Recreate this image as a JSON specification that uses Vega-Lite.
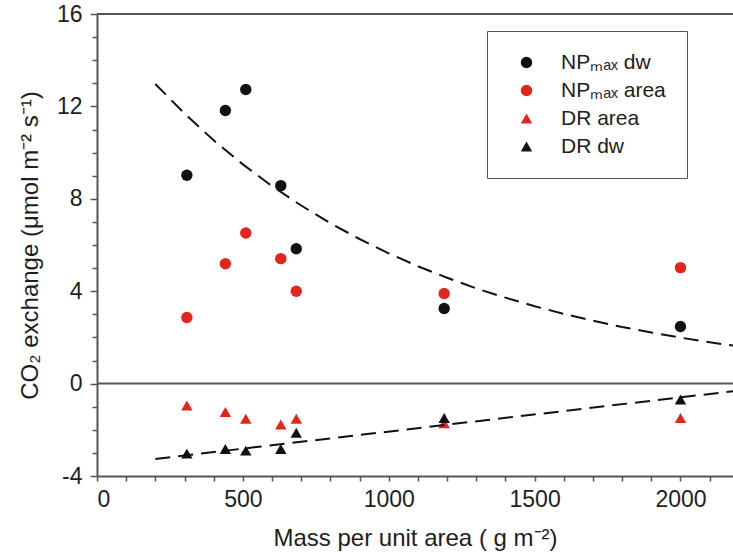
{
  "$schema": "https://vega.github.io/schema/vega-lite/v6.json",
  "autosize": "none",
  "padding": {"left": 97, "top": 14, "right": 0, "bottom": 79},
  "width": 636,
  "height": 462,
  "background": "white",
  "config": {
    "view": {"stroke": null},
    "font": "Liberation Sans",
    "axis": {
      "labelFont": "Liberation Sans",
      "titleFont": "Liberation Sans",
      "labelFontSize": 23,
      "titleFontSize": 24,
      "titleFontWeight": "normal",
      "labelColor": "#1e1e1e",
      "titleColor": "#1e1e1e",
      "domainColor": "#555555",
      "domainWidth": 2,
      "tickColor": "#555555",
      "tickWidth": 1.5,
      "grid": false,
      "labelOverlap": false
    }
  },
  "datasets": {
    "points": [
      {"series": "NPₘₐₓ dw", "x": 308, "y": 9.02},
      {"series": "NPₘₐₓ dw", "x": 440, "y": 11.82},
      {"series": "NPₘₐₓ dw", "x": 510, "y": 12.73},
      {"series": "NPₘₐₓ dw", "x": 630, "y": 8.57},
      {"series": "NPₘₐₓ dw", "x": 683, "y": 5.84},
      {"series": "NPₘₐₓ dw", "x": 1190, "y": 3.25},
      {"series": "NPₘₐₓ dw", "x": 2000, "y": 2.47},
      {"series": "NPₘₐₓ area", "x": 308, "y": 2.86},
      {"series": "NPₘₐₓ area", "x": 440, "y": 5.19},
      {"series": "NPₘₐₓ area", "x": 510, "y": 6.52},
      {"series": "NPₘₐₓ area", "x": 630, "y": 5.41},
      {"series": "NPₘₐₓ area", "x": 683, "y": 4.0},
      {"series": "NPₘₐₓ area", "x": 1190, "y": 3.9},
      {"series": "NPₘₐₓ area", "x": 2000, "y": 5.02},
      {"series": "DR area", "x": 308, "y": -0.95},
      {"series": "DR area", "x": 440, "y": -1.23},
      {"series": "DR area", "x": 510, "y": -1.52},
      {"series": "DR area", "x": 630, "y": -1.77},
      {"series": "DR area", "x": 683, "y": -1.52},
      {"series": "DR area", "x": 1190, "y": -1.72},
      {"series": "DR area", "x": 2000, "y": -1.49},
      {"series": "DR dw", "x": 308, "y": -3.03},
      {"series": "DR dw", "x": 440, "y": -2.83},
      {"series": "DR dw", "x": 510, "y": -2.9},
      {"series": "DR dw", "x": 630, "y": -2.83},
      {"series": "DR dw", "x": 683, "y": -2.13},
      {"series": "DR dw", "x": 1190, "y": -1.49},
      {"series": "DR dw", "x": 2000, "y": -0.69}
    ],
    "fits": [
      {"fit": "np", "x": 200, "y": 12.97},
      {"fit": "np", "x": 300, "y": 11.69},
      {"fit": "np", "x": 400, "y": 10.53},
      {"fit": "np", "x": 500, "y": 9.49},
      {"fit": "np", "x": 600, "y": 8.55},
      {"fit": "np", "x": 700, "y": 7.71},
      {"fit": "np", "x": 800, "y": 6.94},
      {"fit": "np", "x": 900, "y": 6.26},
      {"fit": "np", "x": 1000, "y": 5.64},
      {"fit": "np", "x": 1100, "y": 5.08},
      {"fit": "np", "x": 1200, "y": 4.58},
      {"fit": "np", "x": 1300, "y": 4.12},
      {"fit": "np", "x": 1400, "y": 3.72},
      {"fit": "np", "x": 1500, "y": 3.35},
      {"fit": "np", "x": 1600, "y": 3.02},
      {"fit": "np", "x": 1700, "y": 2.72},
      {"fit": "np", "x": 1800, "y": 2.45},
      {"fit": "np", "x": 1900, "y": 2.21},
      {"fit": "np", "x": 2000, "y": 1.99},
      {"fit": "np", "x": 2100, "y": 1.79},
      {"fit": "np", "x": 2200, "y": 1.61},
      {"fit": "dr", "x": 200, "y": -3.26},
      {"fit": "dr", "x": 2200, "y": -0.3}
    ],
    "rules": [{"y": 0}, {"y": 16}]
  },
  "layer": [
    {
      "data": {"name": "points"},
      "mark": {"type": "point", "filled": true, "opacity": 1, "clip": true},
      "encoding": {
        "x": {
          "field": "x", "type": "quantitative",
          "title": "Mass per unit area ( g m⁻²)",
          "scale": {"domain": [0, 2180], "nice": false, "zero": false},
          "axis": {
            "values": [0, 100, 200, 300, 400, 500, 600, 700, 800, 900, 1000, 1100, 1200, 1300, 1400, 1500, 1600, 1700, 1800, 1900, 2000, 2100],
            "labelExpr": "datum.value % 500 === 0 ? '' + datum.value : ''",
            "labelOverlap": false,
            "tickSize": 5,
            "labelPadding": 7,
            "titlePadding": 15
          }
        },
        "y": {
          "field": "y", "type": "quantitative",
          "title": "CO₂ exchange (μmol m⁻² s⁻¹)",
          "scale": {"domain": [-4, 16], "nice": false, "zero": false},
          "axis": {
            "values": [-4, -3, -2, -1, 0, 1, 2, 3, 4, 5, 6, 7, 8, 9, 10, 11, 12, 13, 14, 15, 16],
            "labelExpr": "datum.value % 4 === 0 ? '' + datum.value : ''",
            "labelOverlap": false,
            "tickSize": {"condition": {"test": "datum.value % 4 === 0", "value": 7}, "value": 5},
            "labelPadding": 8,
            "titlePadding": 14
          }
        },
        "color": {
          "field": "series", "type": "nominal",
          "scale": {"domain": ["NPₘₐₓ dw", "NPₘₐₓ area", "DR area", "DR dw"], "range": ["#111111", "#e3261c", "#e3261c", "#111111"]},
          "legend": {
            "title": null,
            "orient": "none",
            "legendX": 390,
            "legendY": 17,
            "strokeColor": "#555555",
            "fillColor": "white",
            "padding": 21,
            "symbolOffset": 8,
            "labelOffset": 24,
            "labelFontSize": 21,
            "labelFont": "Liberation Sans",
            "labelColor": "#1e1e1e",
            "rowPadding": 6,
            "symbolStrokeWidth": 0
          }
        },
        "shape": {
          "field": "series", "type": "nominal",
          "scale": {"domain": ["NPₘₐₓ dw", "NPₘₐₓ area", "DR area", "DR dw"], "range": ["circle", "circle", "triangle-up", "triangle-up"]}
        },
        "size": {
          "field": "series", "type": "nominal",
          "scale": {"domain": ["NPₘₐₓ dw", "NPₘₐₓ area", "DR area", "DR dw"], "range": [130, 130, 190, 190]}
        }
      }
    },
    {
      "data": {"name": "rules"},
      "mark": {"type": "rule", "color": "#555555", "strokeWidth": 2},
      "encoding": {
        "y": {
          "field": "y", "type": "quantitative",
          "title": "CO₂ exchange (μmol m⁻² s⁻¹)",
          "axis": {
            "values": [-4, -3, -2, -1, 0, 1, 2, 3, 4, 5, 6, 7, 8, 9, 10, 11, 12, 13, 14, 15, 16],
            "labelExpr": "datum.value % 4 === 0 ? '' + datum.value : ''",
            "labelOverlap": false,
            "tickSize": {"condition": {"test": "datum.value % 4 === 0", "value": 7}, "value": 5},
            "labelPadding": 8,
            "titlePadding": 14
          }
        }
      }
    },
    {
      "data": {"name": "fits"},
      "mark": {"type": "line", "color": "#111111", "strokeWidth": 2, "strokeDash": [15, 8], "clip": true},
      "encoding": {
        "x": {
          "field": "x", "type": "quantitative",
          "title": "Mass per unit area ( g m⁻²)",
          "axis": {
            "values": [0, 100, 200, 300, 400, 500, 600, 700, 800, 900, 1000, 1100, 1200, 1300, 1400, 1500, 1600, 1700, 1800, 1900, 2000, 2100],
            "labelExpr": "datum.value % 500 === 0 ? '' + datum.value : ''",
            "labelOverlap": false,
            "tickSize": 5,
            "labelPadding": 7,
            "titlePadding": 15
          }
        },
        "y": {
          "field": "y", "type": "quantitative",
          "title": "CO₂ exchange (μmol m⁻² s⁻¹)",
          "axis": {
            "values": [-4, -3, -2, -1, 0, 1, 2, 3, 4, 5, 6, 7, 8, 9, 10, 11, 12, 13, 14, 15, 16],
            "labelExpr": "datum.value % 4 === 0 ? '' + datum.value : ''",
            "labelOverlap": false,
            "tickSize": {"condition": {"test": "datum.value % 4 === 0", "value": 7}, "value": 5},
            "labelPadding": 8,
            "titlePadding": 14
          }
        },
        "detail": {"field": "fit"}
      }
    }
  ]
}
